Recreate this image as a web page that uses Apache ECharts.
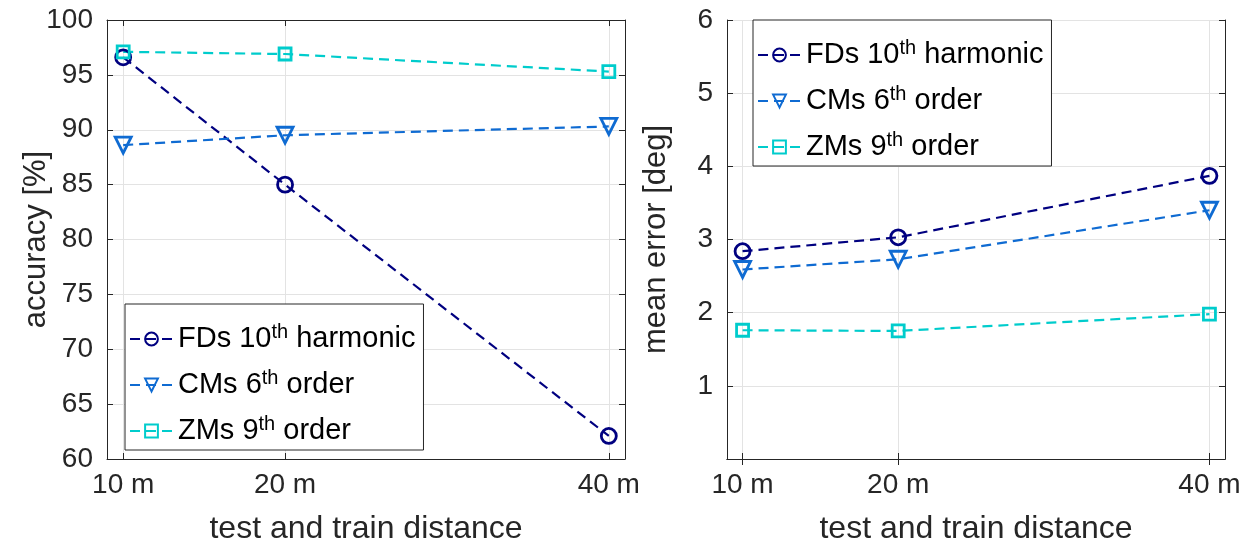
<!DOCTYPE html>
<html>
<head>
<meta charset="utf-8">
<script src="https://cdn.jsdelivr.net/npm/echarts@6/dist/echarts.min.js"></script>
<style>
html,body{margin:0;padding:0;background:#fff;}
#chart{width:1250px;height:541px;}
</style>
</head>
<body>
<div id="chart"></div>
<script>
// ---- data ----
const distances = [10, 20, 40];
const distanceLabels = ['10 m', '20 m', '40 m'];
const seriesNames = ['FDs 10th harmonic', 'CMs 6th order', 'ZMs 9th order'];
const accuracyFD = [96.6, 85.0, 62.1];
const accuracyCM = [88.6, 89.5, 90.3];
const accuracyZM = [97.1, 96.9, 95.3];
const errorFD = [2.84, 3.03, 3.87];
const errorCM = [2.59, 2.73, 3.40];
const errorZM = [1.76, 1.75, 1.98];

const colors = ['#000080', '#0f6bd2', '#00cccc'];
const symbols = ['circle', 'triangle', 'rect'];
const symbolRot = [0, 180, 0];
const symbolSizes = [15, 16, 12];

const FONT = '"Liberation Sans", Arial, Helvetica, sans-serif';
const axisColor = '#262626';
const gridColor = '#e3e3e3';

function pairs(xs, ys) { return xs.map((x, i) => [x, ys[i]]); }

function xAxes(gridIndex) {
  const base = {
    type: 'value', gridIndex: gridIndex, min: 9, max: 41,
    axisLine: { show: true, lineStyle: { color: axisColor, width: 1 } },
  };
  return [
    Object.assign({}, base, {
      position: 'bottom',
      name: 'test and train distance', nameLocation: 'middle', nameGap: 54,
      nameMoveOverlap: false,
      nameTextStyle: { fontFamily: FONT, fontSize: 32, color: axisColor },
      axisTick: { show: true, inside: true, length: 6, customValues: distances, lineStyle: { color: axisColor } },
      axisLabel: {
        customValues: distances, fontFamily: FONT, fontSize: 28, color: axisColor, margin: 12,
        formatter: v => distanceLabels[distances.indexOf(v)]
      },
      splitLine: { show: true, lineStyle: { color: gridColor, width: 1 } }
    }),
    Object.assign({}, base, {
      position: 'top',
      axisTick: { show: true, inside: true, length: 6, customValues: distances, lineStyle: { color: axisColor } },
      axisLabel: { show: false },
      splitLine: { show: false }
    })
  ];
}

function yAxes(gridIndex, min, max, interval, name, hideZero) {
  const base = {
    type: 'value', gridIndex: gridIndex, min: min, max: max, interval: interval,
    axisLine: { show: true, lineStyle: { color: axisColor, width: 1 } },
    axisTick: { show: true, inside: true, length: 6, lineStyle: { color: axisColor } }
  };
  return [
    Object.assign({}, base, {
      position: 'left',
      name: name, nameLocation: 'middle', nameGap: 55,
      nameMoveOverlap: false,
      nameTextStyle: { fontFamily: FONT, fontSize: 31, color: axisColor },
      axisLabel: {
        fontFamily: FONT, fontSize: 28, color: axisColor, margin: 14,
        formatter: v => (hideZero && v === 0) ? '' : String(v)
      },
      splitLine: { show: true, lineStyle: { color: gridColor, width: 1 } }
    }),
    Object.assign({}, base, {
      position: 'right',
      axisLabel: { show: false },
      splitLine: { show: false }
    })
  ];
}

function makeSeries(xIdx, yIdx, valueSets) {
  return valueSets.map((vals, i) => ({
    type: 'line',
    name: seriesNames[i],
    xAxisIndex: xIdx, yAxisIndex: yIdx,
    data: pairs(distances, vals),
    symbol: symbols[i], symbolRotate: symbolRot[i], symbolSize: symbolSizes[i],
    showAllSymbol: true,
    lineStyle: { color: colors[i], width: 2.2, type: [10, 6] },
    itemStyle: { color: 'rgba(255,255,255,0)', borderColor: colors[i], borderWidth: 2.8 },
    emphasis: { disabled: true },
    animation: false
  }));
}

function legendFormatter(name) {
  return name.replace(/^(.*?)(\d+)th(.*)$/, (m, a, b, c) => '{n|' + a + b + '}{s|th}{n|' + c + '}');
}

function legend(left, top) {
  return {
    show: true, orient: 'vertical',
    left: left, top: top,
    data: seriesNames,
    itemWidth: 43, itemHeight: 16, itemGap: 12,
    padding: [18, 8, 2, 4],
    backgroundColor: '#ffffff',
    borderColor: '#262626', borderWidth: 1,
    selectedMode: false,
    formatter: legendFormatter,
    textStyle: {
      fontFamily: FONT, fontSize: 29, color: '#000',
      rich: {
        n: { fontFamily: FONT, fontSize: 29, color: '#000', lineHeight: 32 },
        s: { fontFamily: FONT, fontSize: 20, color: '#000', padding: [0, 0, 14, 0], lineHeight: 32 }
      }
    }
  };
}

const chart = echarts.init(document.getElementById('chart'), null, { renderer: 'canvas' });
chart.setOption({
  animation: false,
  backgroundColor: '#ffffff',
  grid: [
    { left: 107, right: 625, top: 20, bottom: 82, containLabel: false, outerBoundsMode: 'none' },
    { left: 727, right: 25, top: 20, bottom: 82, containLabel: false, outerBoundsMode: 'none' }
  ],
  xAxis: [].concat(xAxes(0), xAxes(1)),
  yAxis: [].concat(
    yAxes(0, 60, 100, 5, 'accuracy [%]', false),
    yAxes(1, 0, 6, 1, 'mean error [deg]', true)
  ),
  legend: [legend(125, 304), legend(753, 20)],
  series: [].concat(
    makeSeries(0, 0, [accuracyFD, accuracyCM, accuracyZM]),
    makeSeries(2, 2, [errorFD, errorCM, errorZM])
  )
});
</script>
</body>
</html>
